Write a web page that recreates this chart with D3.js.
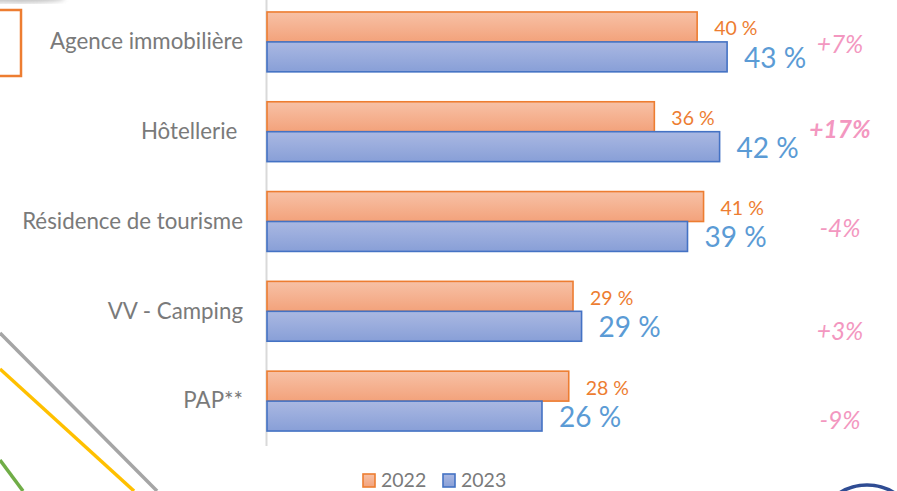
<!DOCTYPE html>
<html>
<head>
<meta charset="utf-8">
<script src="https://cdn.jsdelivr.net/npm/d3@7"></script>
<style>
  html, body { margin: 0; padding: 0; background: #ffffff; }
  svg { display: block; font-family: Lato, "Open Sans", sans-serif; }
</style>
</head>
<body>
<svg id="chart" width="897" height="491"></svg>
<script>
// Share of respondents by booking channel, 2022 vs 2023 (%)
const categories = ["Agence immobilière", "Hôtellerie ", "Résidence de tourisme", "VV - Camping", "PAP**"];
const values2022 = [40.2, 36.2, 40.8, 28.6, 28.2];
const values2023 = [43.0, 42.3, 39.3, 29.4, 25.7];
const seriesNames = ["2022", "2023"];

const W = 897, H = 491;
const svg = d3.select("#chart");
const defs = svg.append("defs");

// Bar fills: soft vertical gradients with a darker outline
function gradient(id, top, bottom) {
  const g = defs.append("linearGradient").attr("id", id)
    .attr("x1", 0).attr("y1", 0).attr("x2", 0).attr("y2", 1);
  g.append("stop").attr("offset", "0%").attr("stop-color", top);
  g.append("stop").attr("offset", "100%").attr("stop-color", bottom);
}
gradient("g2022", "#f7c1a6", "#f3a27b");
gradient("g2023", "#aab8e2", "#889fd7");
defs.append("filter").attr("id", "soft")
  .append("feGaussianBlur").attr("stdDeviation", 2.5);

const fills = ["url(#g2022)", "url(#g2023)"];
const strokes = ["#ed7d31", "#4472c4"];
const labelColors = ["#ed7d31", "#5b9bd5"];

// Slide decorations around the chart
svg.append("ellipse").attr("cx", 20).attr("cy", -2).attr("rx", 45).attr("ry", 5)
  .attr("fill", "#9a9a9a").attr("opacity", 0.6).attr("filter", "url(#soft)");
svg.append("rect").attr("x", -3).attr("y", 10).attr("width", 24).attr("height", 66)
  .attr("fill", "#ffffff").attr("stroke", "#ed7d31").attr("stroke-width", 2.5);
[["#a5a5a5", 0, 333, 157, 491], ["#ffc000", 0, 369, 134, 491], ["#70ad47", 0, 460, 23, 491]]
  .forEach(([c, x1, y1, x2, y2]) => {
    svg.append("line").attr("x1", x1).attr("y1", y1).attr("x2", x2).attr("y2", y2)
      .attr("stroke", c).attr("stroke-width", 3.5);
  });
svg.append("circle").attr("cx", 867).attr("cy", 536).attr("r", 51)
  .attr("fill", "none").attr("stroke", "#2f4c93").attr("stroke-width", 3.5);

// Scales
const x = d3.scaleLinear().domain([0, 50]).range([267, 267 + 535]);
const y = d3.scaleBand().domain(categories).range([-3, 446])
  .paddingInner(1 / 3).paddingOuter(1 / 6);
const ySub = d3.scaleBand().domain(seriesNames).range([0, y.bandwidth()]);

// Category axis (line only, labels drawn on the left)
const axis = svg.append("g").attr("transform", "translate(266.5,0)")
  .call(d3.axisLeft(y).tickSize(0).tickPadding(23.5).tickFormat(d => d));
axis.select(".domain").attr("stroke", "#d9d9d9").attr("stroke-width", 2)
  .attr("d", "M0,0V446");
axis.selectAll(".tick text")
  .attr("fill", "#7a7a7a").attr("font-size", 22.3)
  .attr("font-family", "Lato, sans-serif")
  .attr("dy", "0.33em").style("white-space", "pre");

// Bars
const rows = categories.map((c, i) => ({ cat: c, vals: [values2022[i], values2023[i]] }));
const groups = svg.append("g").selectAll("g").data(rows).join("g")
  .attr("transform", d => `translate(0,${y(d.cat)})`);

groups.selectAll("rect").data(d => d.vals.map((v, k) => ({ v, k })))
  .join("rect")
  .attr("x", x(0))
  .attr("y", d => ySub(seriesNames[d.k]))
  .attr("width", d => x(d.v) - x(0))
  .attr("height", ySub.bandwidth())
  .attr("fill", d => fills[d.k])
  .attr("stroke", d => strokes[d.k])
  .attr("stroke-width", 1.6);

// Value labels
const pct = v => `${Math.round(v)} %`;
groups.selectAll("text.val").data(d => d.vals.map((v, k) => ({ v, k })))
  .join("text").attr("class", "val")
  .attr("x", d => x(d.v) + 17)
  .attr("y", d => ySub(seriesNames[d.k]) + ySub.bandwidth() / 2 + (d.k === 0 ? 8.5 : 11))
  .attr("fill", d => labelColors[d.k])
  .attr("font-size", d => d.k === 0 ? 19.5 : 28)
  .text(d => pct(d.v));

// Year-over-year change notes
const change = (a, b) => {
  const r = Math.round((b / a - 1) * 100);
  return (r > 0 ? "+" : "-") + Math.abs(r) + "%";
};
const noteShift = [2, -3, 6, 20, 19];
svg.append("g").selectAll("text").data(rows).join("text")
  .attr("x", 840)
  .attr("y", (d, i) => y(d.cat) + y.bandwidth() / 2 + noteShift[i] + 9)
  .attr("text-anchor", "middle")
  .attr("fill", "#f397c0")
  .attr("font-size", 24.5)
  .attr("font-style", "italic")
  .attr("font-weight", d => Math.round((d.vals[1] / d.vals[0] - 1) * 100) > 10 ? 700 : 400)
  .text(d => change(d.vals[0], d.vals[1]));

// Legend
const legend = svg.append("g").attr("transform", "translate(362,473)");
seriesNames.forEach((s, k) => {
  const g = legend.append("g").attr("transform", `translate(${k * 80},0)`);
  g.append("rect").attr("x", 1).attr("y", 1).attr("width", 12).attr("height", 13)
    .attr("fill", fills[k]).attr("stroke", strokes[k]).attr("stroke-width", 1.6);
  g.append("text").attr("x", 19).attr("y", 14).attr("fill", "#7a7a7a")
    .attr("font-size", 19.5).text(s);
});
</script>
</body>
</html>
